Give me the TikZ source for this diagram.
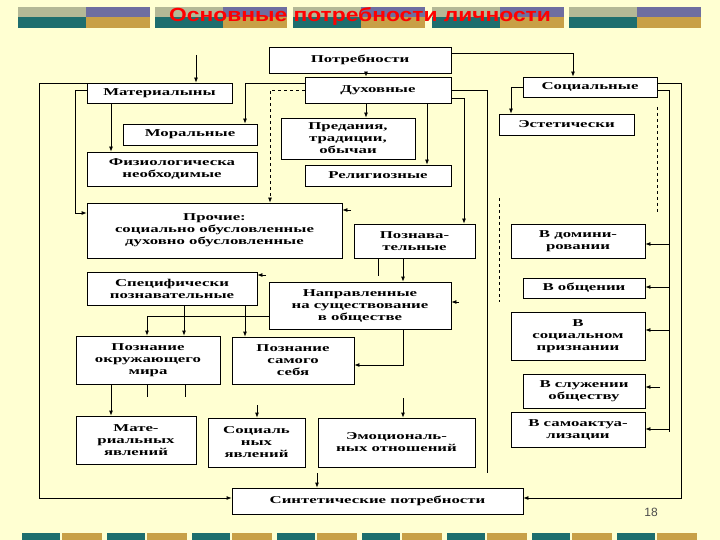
\documentclass[tikz,border=0pt]{standalone}
\usepackage{fontspec}
\setmainfont{Liberation Serif}
\newfontfamily\titlefont[FakeStretch=1.2]{Liberation Sans}
\newfontfamily\numfont{Liberation Sans}
\newfontfamily\boxfont[FakeStretch=1.6]{Liberation Serif}
\usetikzlibrary{arrows.meta}
\definecolor{bg}{HTML}{FFFFD2}
\definecolor{cteal}{HTML}{1E6E6E}
\definecolor{cgold}{HTML}{C8A046}
\definecolor{cgray}{HTML}{B4B896}
\definecolor{cpurp}{HTML}{6E6EA0}
\tikzset{
 bx/.style={draw,fill=white,line width=0.8pt,align=center,font=\boxfont\bfseries\fontsize{10.5}{12}\selectfont,inner sep=1pt},
 ln/.style={line width=0.8pt},
 ar/.style={line width=0.8pt,-{Latex[length=5pt,width=4pt]}},
}
\newcommand{\bxat}[6]{\node[bx,minimum width=#3-#1,minimum height=#4-#2] (#5) at ({(#1+#3)/2},{(#2+#4)/2}) {#6};}
\begin{document}
\begin{tikzpicture}[x=1pt,y=-1pt]
\fill[bg] (0,0) rectangle (720,540);
\useasboundingbox (0,0) rectangle (720,540);
% banner stripes
\foreach \a in {18,155,293,432,569}{
  \fill[cgray] (\a,7) rectangle +(68,10);
  \fill[cpurp] (\a+68,7) rectangle +(64,10);
  \fill[cteal] (\a,17) rectangle +(68,11);
  \fill[cgold] (\a+68,17) rectangle +(64,11);
}
\node[font=\titlefont\bfseries\fontsize{19}{20}\selectfont,text=red,inner sep=0pt] (title) at (360,17) {Основные потребности личности};
\foreach \a in {22,107,192,277,362,447,532,617}{
  \fill[cteal] (\a,533) rectangle +(38,7);
  \fill[cgold] (\a+40,533) rectangle +(40,7);
}
% boxes
\bxat{269}{47}{451}{73}{potr}{Потребности}
\bxat{305}{77}{451}{103}{duh}{Духовные}
\bxat{87}{83}{232}{103}{mat}{Материалыны}
\bxat{523}{77}{657}{97}{soc}{Социальные}
\bxat{123}{124}{257}{145}{mor}{Моральные}
\bxat{87}{152}{257}{186}{fiz}{Физиологическа\\необходимые}
\bxat{281}{118}{415}{159}{pred}{Предания,\\традиции,\\обычаи}
\bxat{305}{165}{451}{186}{rel}{Религиозные}
\bxat{499}{114}{634}{135}{est}{Эстетически}
\bxat{87}{203}{342}{258}{proch}{Прочие:\\социально обусловленные\\духовно обусловленные}
\bxat{354}{224}{475}{258}{pozn}{Познава-\\тельные}
\bxat{511}{224}{645}{258}{dom}{В домини-\\ровании}
\bxat{87}{272}{257}{305}{spec}{Специфически\\познавательные}
\bxat{269}{282}{451}{329}{napr}{Направленные\\на существование\\в обществе}
\bxat{523}{278}{645}{298}{obsh}{В общении}
\bxat{511}{312}{645}{360}{prizn}{В\\социальном\\признании}
\bxat{76}{336}{220}{384}{okr}{Познание\\окружающего\\мира}
\bxat{232}{337}{354}{384}{sam}{Познание\\самого\\себя}
\bxat{523}{374}{645}{408}{sluzh}{В служении\\обществу}
\bxat{511}{412}{645}{447}{akt}{В самоактуа-\\лизации}
\bxat{76}{416}{196}{464}{matj}{Мате-\\риальных\\явлений}
\bxat{208}{418}{305}{467}{socj}{Социаль\\ных\\явлений}
\bxat{318}{418}{475}{467}{emo}{Эмоциональ-\\ных отношений}
\bxat{232}{488}{523}{514}{sint}{Синтетические потребности}
\node[font=\numfont\fontsize{12}{13}\selectfont,text=black!70] (num) at (651,512) {18};
% connectors
\coordinate (t0) at (196,55);
\draw[ar] (t0) -- (mat.north -| t0);
\draw[ar] (potr.south -| 366,0) -- (duh.north -| 366,0);
\draw[ar] (potr.east |- 0,53) -- (573,53) -- (soc.north -| 573,0);
\draw[ar] (duh.west |- 0,83) -- (245,83) -- (mor.north -| 245,0);
\draw[ar] (duh.south -| 366,0) -- (pred.north -| 366,0);
\draw[ar] (duh.south -| 427,0) -- (rel.north -| 427,0);
\draw[ar] (duh.east |- 0,98) -- (464,98) -- (pozn.north -| 464,0);
\draw[ar,dashed] (duh.west |- 0,90) -- (270,90) -- (proch.north -| 270,0);
\draw[ln] (duh.east |- 0,90) -- (487,90) -- (487,473);
\draw[ar] (mat.west |- 0,90) -- (75,90) -- (75,213) -- (proch.west |- 0,213);
\draw[ar] (mat.south -| 111,0) -- (fiz.north -| 111,0);
\draw[ar] (mat.west |- 0,83) -- (39,83) -- (39,498) -- (sint.west |- 0,498);
\draw[ar] (soc.west |- 0,87) -- (511,87) -- (est.north -| 511,0);
\draw[ln] (soc.east |- 0,90) -- (669,90) -- (669,432);
\draw[ar] (669,244) -- (dom.east |- 0,244);
\draw[ar] (669,287) -- (obsh.east |- 0,287);
\draw[ar] (669,330) -- (prizn.east |- 0,330);
\draw[ar] (669,429) -- (akt.east |- 0,429);
\coordinate (s1) at (660,387);
\draw[ar] (s1) -- (sluzh.east |- s1);
\draw[ar] (soc.east |- 0,83) -- (681,83) -- (681,498) -- (sint.east |- 0,498);
\draw[ar] (pozn.south -| 403,0) -- (napr.north -| 403,0);
\draw[ln] (pozn.south -| 378,0) -- (378,276);
\coordinate (c4) at (266,275);
\draw[ar] (c4) -- (spec.east |- c4);
\coordinate (c5) at (351,210);
\draw[ar] (c5) -- (proch.east |- c5);
\coordinate (c6) at (459,302);
\draw[ar] (c6) -- (napr.east |- c6);
\draw[ar] (napr.west |- 0,316) -- (147,316) -- (okr.north -| 147,0);
\draw[ar] (spec.south -| 184,0) -- (okr.north -| 184,0);
\draw[ar] (spec.south -| 245,0) -- (sam.north -| 245,0);
\draw[ar] (napr.south -| 403,0) -- (403,365) -- (sam.east |- 0,365);
\draw[ar] (okr.south -| 111,0) -- (matj.north -| 111,0);
\draw[ln] (okr.south -| 147,0) -- (147,397);
\draw[ln] (okr.south -| 185,0) -- (185,397);
\coordinate (c1) at (257,405);
\draw[ar] (c1) -- (socj.north -| c1);
\coordinate (c2) at (403,398);
\draw[ar] (c2) -- (emo.north -| c2);
\coordinate (c3) at (317,473);
\draw[ar] (c3) -- (sint.north -| c3);
\draw[ln,dashed] (499,198) -- (499,302);
\draw[ln,dashed] (657,107) -- (657,213);
\end{tikzpicture}
\end{document}
